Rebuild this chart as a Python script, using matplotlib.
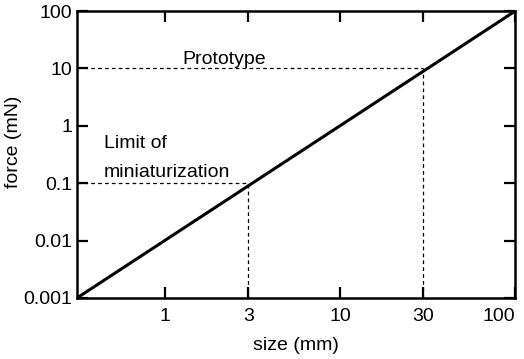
import matplotlib
matplotlib.use("Agg")
import matplotlib.pyplot as plt

plt.rcParams['font.family'] = ['Liberation Sans', 'DejaVu Sans']

# data
size_mm = [0.316, 100]
force_mN = [0.001, 100]
x_ticks = [1, 3, 10, 30, 100]
x_labels = ["1", "3", "10", "30", "100"]
y_ticks = [0.001, 0.01, 0.1, 1, 10, 100]
y_labels = ["0.001", "0.01", "0.1", "1", "10", "100"]
marks = [(3, 0.1), (30, 10)]

fig = plt.figure(figsize=(5.24, 3.59), dpi=100)
ax = fig.add_axes([0.147, 0.170, 0.836, 0.799])

ax.plot(size_mm, force_mN, color='black', lw=2.2, solid_capstyle='butt')
for sx, fy in marks:
    ax.plot([size_mm[0], sx], [fy, fy], color='black', lw=0.9, ls=(0, (3, 2.5)))
    ax.plot([sx, sx], [force_mN[0], fy], color='black', lw=0.9, ls=(0, (3, 2.5)))

ax.set_xscale('log')
ax.set_yscale('log')
ax.set_xlim(size_mm[0], 100)
ax.set_ylim(0.001, 100)
ax.set_xticks(x_ticks)
ax.set_xticklabels(x_labels)
ax.set_yticks(y_ticks)
ax.set_yticklabels(y_labels)
ax.minorticks_off()
ax.tick_params(direction='in', length=8, width=1.6, labelsize=14,
               top=True, right=True)
ax.tick_params(axis='x', pad=7)
ax.tick_params(axis='y', pad=3.5)
ax.get_xticklabels()[-1].set_ha('right')
for sp in ax.spines.values():
    sp.set_linewidth(1.8)

ax.set_xlabel("size (mm)", fontsize=14, labelpad=9)
ax.set_ylabel("force (mN)", fontsize=14)
ax.yaxis.set_label_coords(-0.126, 0.544)

ax.text(1.26, 12, "Prototype", fontsize=14, va='baseline', ha='left')
ax.text(0.45, 0.41, "Limit of", fontsize=14, va='baseline', ha='left')
ax.text(0.45, 0.128, "miniaturization", fontsize=14, va='baseline', ha='left')

fig.savefig("out.png", dpi=100)
